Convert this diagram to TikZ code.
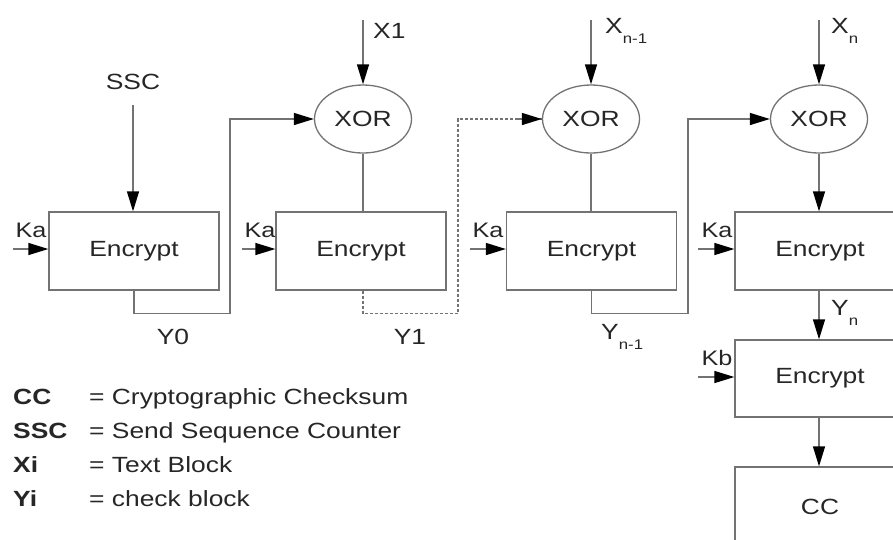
\documentclass[tikz,border=0pt]{standalone}
\usepackage{fontspec}
\setmainfont[FakeStretch=1.2]{Liberation Sans}
\usetikzlibrary{arrows.meta,shapes.geometric}

% subscript in the stretched text font
\newcommand{\lowsub}[1]{\raisebox{-0.45em}{\fontsize{14}{14}\selectfont #1}}

\tikzset{
  wire/.style={draw=black!55, line width=1.3pt},
  arr/.style={wire, -{Triangle[length=20pt,width=12pt,fill=black,color=black]}},
  encbox/.style={draw=black!55, line width=1.3pt, minimum width=170pt,
    minimum height=78pt, inner sep=0pt, text=black!85, font=\fontsize{22}{22}\selectfont},
  xorell/.style={ellipse, draw=black!55, line width=1.3pt, minimum width=97pt,
    minimum height=68pt, inner sep=0pt, text=black!85, font=\fontsize{22}{22}\selectfont},
  lbl/.style={inner sep=0pt, text=black!85, font=\fontsize{22}{22}\selectfont},
  keylbl/.style={inner sep=0pt, text=black!85, font=\fontsize{21}{21}\selectfont},
  leg/.style={inner sep=0pt, anchor=base west, text=black!85, font=\fontsize{22}{22}\selectfont}
}

\begin{document}
\begin{tikzpicture}[x=1pt,y=-1pt]
\useasboundingbox (0,0) rectangle (893,539);

% encryption stages
\node[encbox] (e1) at (134,251) {Encrypt};
\node[encbox] (e2) at (361,251) {Encrypt};
\node[encbox] (e3) at (591.5,251) {Encrypt};
\node[encbox] (e4) at (820,251) {Encrypt};
\node[encbox, minimum height=77pt] (e5) at (820,378.5) {Encrypt};
\node[encbox, minimum height=80pt] (cc) at (820,507) {CC};

% XOR gates
\node[xorell] (x1) at (363,119) {XOR};
\node[xorell] (x2) at (591,119) {XOR};
\node[xorell] (x3) at (819,119) {XOR};

% inputs
\node[lbl] (ssc) at (133,82) {SSC};
\draw[arr, shorten <=15pt] (ssc.south) -- (e1.north -| ssc.south);

\coordinate (t1) at (363,20);
\coordinate (t2) at (591,20);
\coordinate (t3) at (819,20);
\draw[arr] (t1) -- (x1.north);
\draw[arr] (t2) -- (x2.north);
\draw[arr] (t3) -- (x3.north);
\node[lbl, anchor=west] (lx1) at (373,31) {X1};
\node[lbl, anchor=west] (lx2) at (605,31) {X\lowsub{n-1}};
\node[lbl, anchor=west] (lx3) at (831,31) {X\lowsub{n}};

% XOR outputs into the next stage
\draw[wire] (x1.south) -- (x1.south |- e2.north);
\draw[wire] (x2.south) -- (x2.south |- e3.north);
\draw[arr] (x3.south) -- (x3.south |- e4.north);

% chaining values
\draw[arr] (e1.south) -- ++(0,23) -- ++(96,0) |- (x1.west);
\draw[wire, dash pattern=on 3pt off 2pt] (e2.south -| x1.south) -- ++(0,23) -- ++(95,0) |- (x2.west);
\draw[arr, dash pattern=on 3pt off 2pt] ([xshift=-24pt]x2.west) -- (x2.west);
\draw[arr] (e3.south) -- ++(0,23) -- ++(96.5,0) |- (x3.west);
\node[lbl] (ly0) at (173,337) {Y0};
\node[lbl] (ly1) at (410,337) {Y1};
\node[lbl, anchor=west] (ly2) at (601,337) {Y\lowsub{n-1}};

% final MAC stages
\draw[arr] (e4.south -| x3.south) -- (e5.north -| x3.south);
\node[lbl, anchor=west] (lyn) at (831,313) {Y\lowsub{n}};
\draw[arr] (e5.south -| x3.south) -- (cc.north -| x3.south);

% key inputs
\coordinate (k1) at (13,249);
\coordinate (k2) at (242,249);
\coordinate (k3) at (470,249);
\coordinate (k4) at (698,249);
\coordinate (k5) at (698,377);
\draw[arr] (k1) -- (k1 -| e1.west);
\draw[arr] (k2) -- (k2 -| e2.west);
\draw[arr] (k3) -- (k3 -| e3.west);
\draw[arr] (k4) -- (k4 -| e4.west);
\draw[arr] (k5) -- (k5 -| e5.west);
\node[keylbl] (ka1) at (31,230) {Ka};
\node[keylbl] (ka2) at (260,230) {Ka};
\node[keylbl] (ka3) at (488,230) {Ka};
\node[keylbl] (ka4) at (717,230) {Ka};
\node[keylbl] (kb) at (717,358) {Kb};

% legend
\node[leg] (g1) at (13,404) {\textbf{CC}};
\node[leg] (g2) at (13,438) {\textbf{SSC}};
\node[leg] (g3) at (13,472) {\textbf{Xi}};
\node[leg] (g4) at (13,506) {\textbf{Yi}};
\node[leg] (d1) at (89,404) {= Cryptographic Checksum};
\node[leg] (d2) at (89,438) {= Send Sequence Counter};
\node[leg] (d3) at (89,472) {= Text Block};
\node[leg] (d4) at (89,506) {= check block};
\end{tikzpicture}
\end{document}
